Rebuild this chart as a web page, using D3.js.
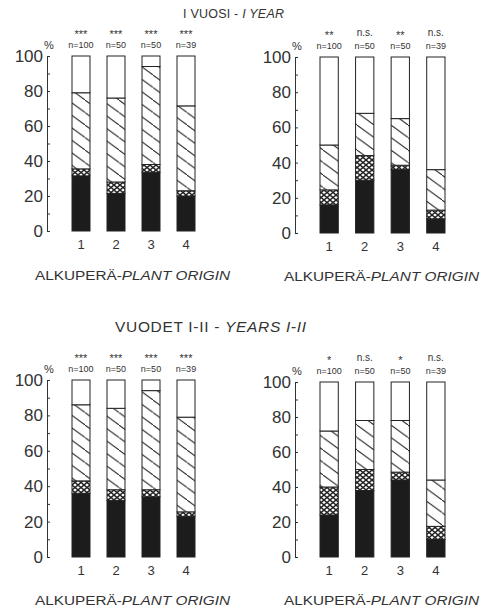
<!DOCTYPE html>
<html>
<head>
<meta charset="utf-8">
<script src="https://cdn.jsdelivr.net/npm/d3@7"></script>
<style>
  body { margin: 0; background: #fff; }
  text { font-family: "Liberation Sans", Arial, sans-serif; fill: #333; }
</style>
</head>
<body>
<script>
// categories and labels
const origins = ["1", "2", "3", "4"];
const sampleN = ["n=100", "n=50", "n=50", "n=39"];
const yTicks = [0, 10, 20, 30, 40, 50, 60, 70, 80, 90, 100];

// segment shares in %, bottom to top: black, cross-hatched, hatched, white
const y1LeftBlack = [31.5, 21.5, 33.5, 20];
const y1LeftCross = [4, 6.5, 4.5, 3];
const y1LeftHatch = [43.5, 48, 56, 48.5];
const y1LeftWhite = [21, 24, 6, 28.5];
const y1LeftSig = ["***", "***", "***", "***"];

const y1RightBlack = [16, 30, 36, 8];
const y1RightCross = [8.5, 14, 2.5, 5];
const y1RightHatch = [25.5, 24, 26.5, 23];
const y1RightWhite = [50, 32, 35, 64];
const y1RightSig = ["**", "n.s.", "**", "n.s."];

const y12LeftBlack = [36, 32, 34, 23];
const y12LeftCross = [7, 6, 4, 2.5];
const y12LeftHatch = [43, 46, 56, 53.5];
const y12LeftWhite = [14, 16, 6, 21];
const y12LeftSig = ["***", "***", "***", "***"];

const y12RightBlack = [24, 38, 44, 10];
const y12RightCross = [16, 12, 4.5, 7.5];
const y12RightHatch = [32, 28, 29.5, 26.5];
const y12RightWhite = [28, 22, 22, 56];
const y12RightSig = ["*", "n.s.", "*", "n.s."];

const keys = ["black", "cross", "hatch", "white"];

const width = 492, height = 611;

const svg = d3.select("body").append("svg")
  .attr("width", width)
  .attr("height", height);

// fill patterns
const defs = svg.append("defs");
defs.append("pattern")
  .attr("id", "hatch")
  .attr("patternUnits", "userSpaceOnUse")
  .attr("width", 17).attr("height", 12.5)
  .call(p => {
    p.append("rect").attr("width", 17).attr("height", 12.5).attr("fill", "#fff");
    p.append("line").attr("x1", -1).attr("y1", -12.5 / 17).attr("x2", 18).attr("y2", 12.5 + 12.5 / 17)
      .attr("stroke", "#222").attr("stroke-width", 1);
  });
defs.append("pattern")
  .attr("id", "cross")
  .attr("patternUnits", "userSpaceOnUse")
  .attr("width", 6).attr("height", 5)
  .call(p => {
    p.append("rect").attr("width", 6).attr("height", 5).attr("fill", "#fff");
    p.append("path").attr("d", "M0,0L6,5M6,0L0,5")
      .attr("stroke", "#222").attr("stroke-width", 1.4).attr("fill", "none");
  });

const fills = { black: "#1c1c1c", cross: "url(#cross)", hatch: "url(#hatch)", white: "#fff" };

function panel(cfg) {
  const rows = origins.map((o, i) => ({
    origin: o,
    black: cfg.black[i], cross: cfg.cross[i], hatch: cfg.hatch[i], white: cfg.white[i]
  }));
  const series = d3.stack().keys(keys)(rows);

  const x = d3.scaleBand().domain(origins).range(cfg.xr).paddingInner(0.486).paddingOuter(0);
  const y = d3.scaleLinear().domain([0, 100]).range(cfg.yr);

  const g = svg.append("g");

  // axis with ticks pointing inward
  const axis = d3.axisLeft(y)
    .tickValues(yTicks)
    .tickSizeInner(-3)
    .tickSizeOuter(0)
    .tickPadding(4)
    .tickFormat(d => d % 20 === 0 ? d : "");
  const ag = g.append("g")
    .attr("transform", `translate(${cfg.ax},0)`)
    .call(axis);
  ag.select(".domain").attr("stroke", "#333");
  ag.selectAll(".tick line").attr("stroke", "#333");
  ag.selectAll(".tick text")
    .attr("font-size", 17)
    .attr("font-family", "Liberation Sans, Arial, sans-serif")
    .attr("fill", "#444");

  g.append("text")
    .attr("x", cfg.ax + 2).attr("y", cfg.yr[1] - 7)
    .attr("text-anchor", "middle")
    .attr("font-size", 11)
    .text("%");

  // bar segments
  g.selectAll("g.layer")
    .data(series)
    .join("g")
    .attr("class", "layer")
    .attr("fill", s => fills[s.key])
    .selectAll("rect")
    .data(s => s)
    .join("rect")
    .attr("x", d => x(d.data.origin))
    .attr("y", d => y(d[1]))
    .attr("width", x.bandwidth())
    .attr("height", d => y(d[0]) - y(d[1]))
    .attr("stroke", "#222")
    .attr("stroke-width", 1);

  // significance and sample sizes
  g.selectAll("text.n")
    .data(origins)
    .join("text")
    .attr("class", "n")
    .attr("x", d => x(d) + x.bandwidth() / 2)
    .attr("y", cfg.yr[1] - 8)
    .attr("text-anchor", "middle")
    .attr("font-size", 9)
    .text((d, i) => sampleN[i]);

  g.selectAll("text.sig")
    .data(origins)
    .join("text")
    .attr("class", "sig")
    .attr("x", d => x(d) + x.bandwidth() / 2)
    .attr("y", (d, i) => cfg.sig[i] === "n.s." ? cfg.yr[1] - 21 : cfg.yr[1] - 18)
    .attr("text-anchor", "middle")
    .attr("font-size", (d, i) => cfg.sig[i] === "n.s." ? 10 : 11)
    .text((d, i) => cfg.sig[i]);

  // category labels
  g.selectAll("text.cat")
    .data(origins)
    .join("text")
    .attr("class", "cat")
    .attr("x", d => x(d) + x.bandwidth() / 2)
    .attr("y", cfg.yr[0] + 18)
    .attr("text-anchor", "middle")
    .attr("font-size", 13)
    .attr("fill", "#444")
    .text(d => d);

  const xl = g.append("text")
    .attr("x", cfg.lx).attr("y", cfg.ly)
    .attr("font-size", 12)
    .attr("font-family", "DejaVu Sans, sans-serif")
    .attr("textLength", 195)
    .attr("lengthAdjust", "spacingAndGlyphs");
  xl.append("tspan").text("ALKUPERÄ-");
  xl.append("tspan").attr("font-style", "italic").text("PLANT ORIGIN");
}

// titles
const t1 = svg.append("text").attr("x", 183).attr("y", 17.5)
  .attr("font-size", 12.5).attr("textLength", 101).attr("lengthAdjust", "spacing");
t1.append("tspan").text("I VUOSI - ");
t1.append("tspan").attr("font-style", "italic").text("I YEAR");

const t2 = svg.append("text").attr("x", 115).attr("y", 332)
  .attr("font-size", 15.5).attr("textLength", 191).attr("lengthAdjust", "spacing");
t2.append("tspan").text("VUODET I-II - ");
t2.append("tspan").attr("font-style", "italic").text("YEARS I-II");

panel({ black: y1LeftBlack, cross: y1LeftCross, hatch: y1LeftHatch, white: y1LeftWhite, sig: y1LeftSig,
  ax: 47, xr: [72, 195], yr: [231, 56], lx: 35, ly: 280 });
panel({ black: y1RightBlack, cross: y1RightCross, hatch: y1RightHatch, white: y1RightWhite, sig: y1RightSig,
  ax: 295, xr: [320, 445], yr: [233, 57], lx: 284, ly: 281 });
panel({ black: y12LeftBlack, cross: y12LeftCross, hatch: y12LeftHatch, white: y12LeftWhite, sig: y12LeftSig,
  ax: 47, xr: [72, 195], yr: [557, 380], lx: 35, ly: 605 });
panel({ black: y12RightBlack, cross: y12RightCross, hatch: y12RightHatch, white: y12RightWhite, sig: y12RightSig,
  ax: 295, xr: [320, 445], yr: [557, 382], lx: 284, ly: 605 });
</script>
</body>
</html>
